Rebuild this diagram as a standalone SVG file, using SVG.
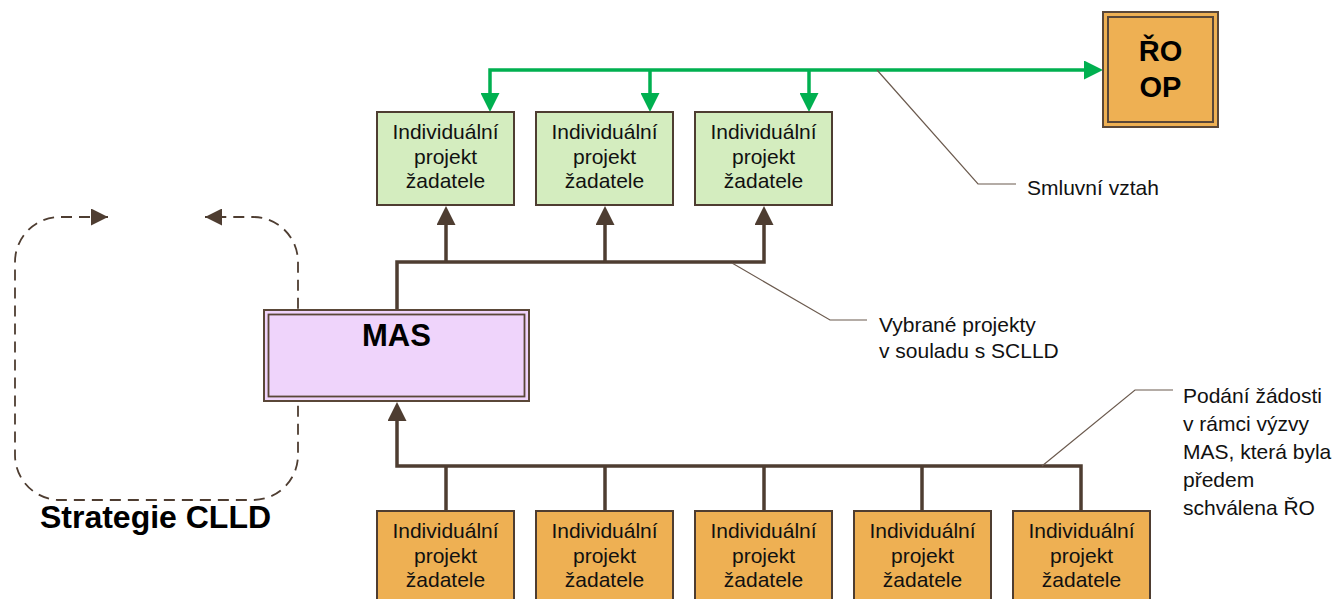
<svg xmlns="http://www.w3.org/2000/svg" width="1335" height="599" viewBox="0 0 1335 599">
<style>
  .t { font-family: "Liberation Sans", Arial, sans-serif; font-size: 21px; fill: #111; }
  .c { text-anchor: middle; }
  .b { font-weight: bold; fill: #000; }
  .s29 { font-size: 29px; }
  .s31 { font-size: 31px; }
  .s32 { font-size: 32px; }
  .green { fill: #D4EDBF; stroke: #4E3D31; stroke-width: 2; }
  .orange { fill: #EEB053; stroke: #4E3D31; stroke-width: 2; }
  .conn { fill: none; stroke: #4E3D31; stroke-width: 3.5; stroke-linejoin: miter; }
  .gconn { fill: none; stroke: #00B050; stroke-width: 3.5; stroke-linejoin: miter; }
  .call { fill: none; stroke: #6B5A4E; stroke-width: 1.2; }
  .dash { fill: none; stroke: #4E3D31; stroke-width: 1.8; stroke-dasharray: 11 7; }
</style>
<defs>
  <marker id="ab" markerUnits="userSpaceOnUse" markerWidth="19" markerHeight="19" viewBox="0 0 19 19" refX="1" refY="9.5" orient="auto-start-reverse">
    <path d="M0,0 L19,9.5 L0,19 z" fill="#4E3D31"/>
  </marker>
  <marker id="ag" markerUnits="userSpaceOnUse" markerWidth="19" markerHeight="19" viewBox="0 0 19 19" refX="1" refY="9.5" orient="auto-start-reverse">
    <path d="M0,0 L19,9.5 L0,19 z" fill="#00B050"/>
  </marker>
  <marker id="ad" markerUnits="userSpaceOnUse" markerWidth="17" markerHeight="17" viewBox="0 0 17 17" refX="17" refY="8.5" orient="auto-start-reverse">
    <path d="M0,0 L17,8.5 L0,17 z" fill="#4E3D31"/>
  </marker>
</defs>
<rect width="1335" height="599" fill="#fff"/>

<g id="connectors">
  <path class="dash" d="M108,217 H60 A45,45 0 0 0 15,262 V455 A45,45 0 0 0 60,500 H253 A45,45 0 0 0 298,455 V262 A45,45 0 0 0 253,217 H205" marker-start="url(#ad)" marker-end="url(#ad)"/>
  <path class="gconn" d="M490,94 V70 H1085" marker-start="url(#ag)" marker-end="url(#ag)"/>
  <path class="gconn" d="M650,70 V94" marker-end="url(#ag)"/>
  <path class="gconn" d="M809,70 V94" marker-end="url(#ag)"/>
  <path class="conn" d="M397,310 V262 H764 V224" marker-end="url(#ab)"/>
  <path class="conn" d="M446,262 V224" marker-end="url(#ab)"/>
  <path class="conn" d="M605,262 V224" marker-end="url(#ab)"/>
  <path class="conn" d="M397,420 V466 H1081 V511" marker-start="url(#ab)"/>
  <path class="conn" d="M446,466 V511"/>
  <path class="conn" d="M605,466 V511"/>
  <path class="conn" d="M764,466 V511"/>
  <path class="conn" d="M922,466 V511"/>
  <path class="call" d="M877,70 L978,184 H1016"/>
  <path class="call" d="M732,263 L830,320 H867"/>
  <path class="call" d="M1042,466 L1135,390 H1173"/>
</g>

<g id="ro-op">
  <rect x="1103" y="12" width="115" height="115" fill="#EEB053" stroke="#5A4738" stroke-width="2"/>
  <rect x="1108" y="17" width="105" height="105" fill="none" stroke="#5A4738" stroke-width="2"/>
  <text class="t c b s29" x="1160.5" y="61">ŘO</text>
  <text class="t c b s29" x="1160.5" y="97">OP</text>
</g>

<g id="mas">
  <rect x="264" y="310" width="265" height="91" fill="#EFD4FB" stroke="#5A4738" stroke-width="2"/>
  <rect x="268.5" y="314.5" width="256" height="82" fill="none" stroke="#5A4738" stroke-width="1.8"/>
  <text class="t c b s31" x="396.5" y="346">MAS</text>
</g>

<g id="strategie">
  <text class="t c b s32" x="155.5" y="528">Strategie CLLD</text>
</g>

<g id="vybrany-1">
  <rect class="green" x="377" y="112" width="137" height="93"/>
  <text class="t c" x="445.5" y="139">Individuální</text>
  <text class="t c" x="445.5" y="163.5">projekt</text>
  <text class="t c" x="445.5" y="188">žadatele</text>
</g>
<g id="vybrany-2">
  <rect class="green" x="536" y="112" width="137" height="93"/>
  <text class="t c" x="604.5" y="139">Individuální</text>
  <text class="t c" x="604.5" y="163.5">projekt</text>
  <text class="t c" x="604.5" y="188">žadatele</text>
</g>
<g id="vybrany-3">
  <rect class="green" x="695" y="112" width="137" height="93"/>
  <text class="t c" x="763.5" y="139">Individuální</text>
  <text class="t c" x="763.5" y="163.5">projekt</text>
  <text class="t c" x="763.5" y="188">žadatele</text>
</g>

<g id="zadost-1">
  <rect class="orange" x="377" y="511" width="137" height="93"/>
  <text class="t c" x="445.5" y="538">Individuální</text>
  <text class="t c" x="445.5" y="562.5">projekt</text>
  <text class="t c" x="445.5" y="587">žadatele</text>
</g>
<g id="zadost-2">
  <rect class="orange" x="536" y="511" width="137" height="93"/>
  <text class="t c" x="604.5" y="538">Individuální</text>
  <text class="t c" x="604.5" y="562.5">projekt</text>
  <text class="t c" x="604.5" y="587">žadatele</text>
</g>
<g id="zadost-3">
  <rect class="orange" x="695" y="511" width="137" height="93"/>
  <text class="t c" x="763.5" y="538">Individuální</text>
  <text class="t c" x="763.5" y="562.5">projekt</text>
  <text class="t c" x="763.5" y="587">žadatele</text>
</g>
<g id="zadost-4">
  <rect class="orange" x="854" y="511" width="137" height="93"/>
  <text class="t c" x="922.5" y="538">Individuální</text>
  <text class="t c" x="922.5" y="562.5">projekt</text>
  <text class="t c" x="922.5" y="587">žadatele</text>
</g>
<g id="zadost-5">
  <rect class="orange" x="1013" y="511" width="137" height="93"/>
  <text class="t c" x="1081.5" y="538">Individuální</text>
  <text class="t c" x="1081.5" y="562.5">projekt</text>
  <text class="t c" x="1081.5" y="587">žadatele</text>
</g>

<g id="label-smluvni">
  <text class="t" x="1027" y="195">Smluvní vztah</text>
</g>
<g id="label-vybrane">
  <text class="t" x="879" y="332">Vybrané projekty</text>
  <text class="t" x="879" y="358">v souladu s SCLLD</text>
</g>
<g id="label-podani">
  <text class="t" x="1183" y="403">Podání žádosti</text>
  <text class="t" x="1183" y="431">v rámci výzvy</text>
  <text class="t" x="1183" y="459">MAS, která byla</text>
  <text class="t" x="1183" y="487">předem</text>
  <text class="t" x="1183" y="515">schválena ŘO</text>
</g>
</svg>
